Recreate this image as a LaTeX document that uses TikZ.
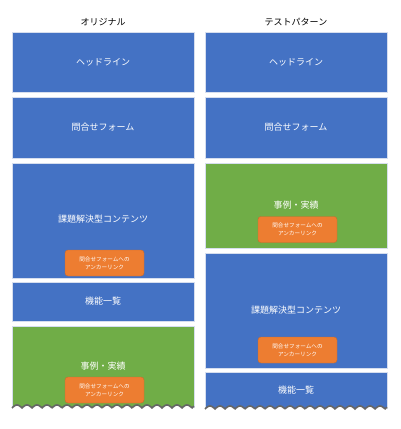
\documentclass[tikz,border=0pt]{standalone}
\usepackage{fontspec}
\setmainfont{Noto Sans CJK JP}
\definecolor{bblue}{HTML}{4472C4}
\definecolor{bgreen}{HTML}{70AD47}
\definecolor{borange}{HTML}{ED7D31}
\definecolor{bedge}{HTML}{D6DEEE}
\begin{document}
\begin{tikzpicture}[x=1pt,y=-1pt,
  blk/.style={fill=#1, draw=bedge, line width=0.6pt, inner sep=0pt, minimum width=182pt},
  lbl/.style={text=white, font=\fontsize{9}{10}\selectfont, inner sep=0pt},
  anchorbtn/.style={fill=borange, draw=borange!85!black, line width=0.4pt, rounded corners=3pt,
     minimum width=79pt, minimum height=26pt, inner sep=0pt, align=center, text=white,
     font=\fontsize{5.6}{7.8}\selectfont},
  ttl/.style={font=\fontsize{9}{10}\selectfont, inner sep=0pt},
  wave/.style={draw=gray!80!black, line width=1.6pt}
]
\useasboundingbox (0,0) rectangle (400,429);
\fill[white] (0,0) rectangle (400,429);

% titles
\node[ttl] (t1) at (103,22) {オリジナル};
\node[ttl] (t2) at (296,22) {テストパターン};

% ---- left column ----
\node[blk=bblue, minimum height=60.5pt] (l1) at (103,62.3) {};
\node[lbl] (l1t) at (l1.center) {ヘッドライン};
\node[blk=bblue, minimum height=61pt] (l2) at (103,127.5) {};
\node[lbl] (l2t) at (l2.center) {問合せフォーム};
\node[blk=bblue, minimum height=115.5pt] (l3) at (103,220.7) {};
\node[lbl] (l3t) at (103,219) {課題解決型コンテンツ};
\node[anchorbtn] (l3b) at (104.5,263) {問合せフォームへの\\アンカーリンク};
\node[blk=bblue, minimum height=39pt] (l4) at (103,301.3) {};
\node[lbl] (l4t) at (l4.center) {機能一覧};
% green wavy box
\fill[bgreen] (12,326) -- (194,326) -- (194,408)
  -- plot[domain=194:12, samples=200] (\x,{408-3*abs(sin(18*(\x-12)))}) -- cycle;
\draw[bedge, line width=0.6pt] (12,408) -- (12,326) -- (194,326) -- (194,408);
\draw[wave] plot[domain=12:194, samples=200] (\x,{408-3*abs(sin(18*(\x-12)))});
\coordinate (l5) at (103,366);
\node[lbl] (l5t) at (l5) {事例・実績};
\node[anchorbtn] (l5b) at (104.5,390) {問合せフォームへの\\アンカーリンク};

% ---- right column ----
\node[blk=bblue, minimum height=60.5pt] (r1) at (296,62.3) {};
\node[lbl] (r1t) at (r1.center) {ヘッドライン};
\node[blk=bblue, minimum height=61pt] (r2) at (296,127.5) {};
\node[lbl] (r2t) at (r2.center) {問合せフォーム};
\node[blk=bgreen, minimum height=85pt] (r3) at (296,205.8) {};
\node[lbl] (r3t) at (296,205) {事例・実績};
\node[anchorbtn] (r3b) at (297.5,229.5) {問合せフォームへの\\アンカーリンク};
\node[blk=bblue, minimum height=115.3pt] (r4) at (296,310.6) {};
\node[lbl] (r4t) at (296,310) {課題解決型コンテンツ};
\node[anchorbtn] (r4b) at (297.5,350) {問合せフォームへの\\アンカーリンク};
% blue wavy box
\fill[bblue] (205,372) -- (387,372) -- (387,409)
  -- plot[domain=387:205, samples=200] (\x,{409-3*abs(sin(18*(\x-205)))}) -- cycle;
\draw[bedge, line width=0.6pt] (205,409) -- (205,372) -- (387,372) -- (387,409);
\draw[wave] plot[domain=205:387, samples=200] (\x,{409-3*abs(sin(18*(\x-205)))});
\coordinate (r5) at (296,390);
\node[lbl] (r5t) at (r5) {機能一覧};
\end{tikzpicture}
\end{document}
